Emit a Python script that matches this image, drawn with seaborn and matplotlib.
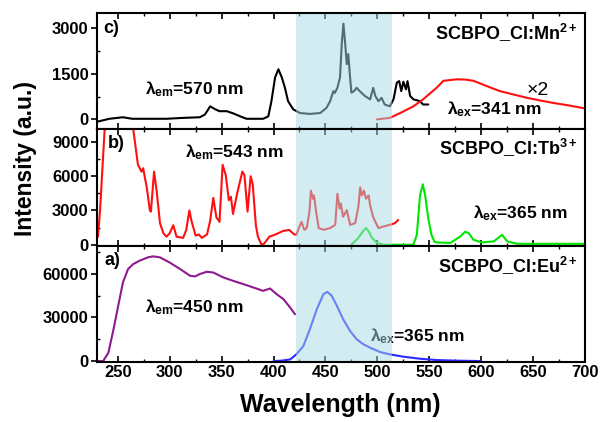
import matplotlib
matplotlib.use('Agg')
import matplotlib.pyplot as plt
from matplotlib.ticker import MultipleLocator
import seaborn as sns

# Mn2+ : excitation (black) and emission (red, x2)
mn_exc_wl = [231, 242, 255, 264, 281, 297, 313, 329, 334, 339, 344, 348, 355, 361, 368, 374, 390, 395, 398, 401.5,
             404.7, 408, 411, 414, 419, 425.5, 435, 445, 451, 454.5, 457.6, 459, 461.5, 464, 465.7, 467.3, 469, 470.5,
             472, 473.7, 475, 477.5, 480, 483, 488, 493, 496, 498, 501, 504, 507, 512, 515.5, 518.7, 521, 523, 525,
             527.5, 529, 531.5, 534.7, 541, 544, 549]
mn_exc_int = [-70, 20, 70, 20, 20, 20, 50, 70, 160, 430, 330, 270, 270, 200, 100, 20, 20, 100, 600, 1380,
              1650, 1380, 1040, 600, 330, 210, 180, 210, 380, 600, 930, 870, 1040, 1380, 2490, 3150, 2490, 1820,
              2150, 1380, 880, 930, 1040, 930, 770, 660, 1040, 770, 600, 710, 490, 430, 660, 1210, 1260, 930, 1240,
              990, 1260, 770, 660, 600, 490, 490]
mn_em_wl = [499.5, 512, 522, 534.7, 544, 557, 563.6, 576.5, 585, 592.5, 605, 618, 631, 644, 657, 669.6, 682.5, 700]
mn_em_int = [0, 50, 210, 430, 660, 1040, 1270, 1320, 1310, 1270, 1100, 930, 820, 710, 620, 540, 470, 360]

# Tb3+ : excitation (red) and emission (green)
tb_exc_wl = [231, 233, 235.5, 238, 245, 255, 262, 265, 269.5, 273, 274.5, 278, 281, 282, 285, 287.5, 290.7, 294,
             297, 300, 303.5, 306.7, 313, 316, 319, 321, 325, 328, 331, 336, 339, 342, 345, 348, 351, 354, 357, 359,
             361, 365, 370, 372, 375, 378, 380, 383, 385, 388.5, 391, 396, 402, 409, 415, 420, 422, 425.6, 427,
             429.6, 432, 434.6, 436, 438, 439, 441, 443.5, 448, 454.6, 459.4, 461.5, 463.7, 464.8, 467, 470.5,
             473.8, 478.6, 481.7, 483.4, 485, 487, 489, 491.6, 493, 495.8, 498, 501, 506, 512, 517, 520]
tb_exc_int = [700, 3000, 7000, 11000, 14000, 14000, 11500, 10100, 7000, 6400, 6700, 5000, 3000, 2900, 6400, 4700,
              1900, 1000, 700, 1000, 1700, 700, 600, 1300, 3000, 2100, 800, 900, 600, 900, 2100, 4100, 2400, 2000,
              7000, 6100, 3900, 4200, 2700, 4500, 6400, 6100, 2900, 6000, 5300, 1700, 700, 0, 100, 700, 900, 1200,
              1300, 900, 880, 1740, 2000, 1310, 1460, 2890, 4740, 4030, 4310, 2890, 1460, 1310, 1460, 1740, 4460,
              3170, 3600, 2450, 3030, 1740, 1890, 3320, 5030, 4310, 4740, 4030, 4310, 3460, 2460, 2020, 1460, 1600,
              1740, 1890, 2170]
tb_em_wl = [475, 481.7, 486, 489, 491.6, 494.8, 499.4, 506, 534.7, 538, 541, 543.7, 546, 549, 552, 555, 557, 570,
            579.7, 584.5, 588, 592.5, 600.6, 612, 620, 625, 634.6, 700]
tb_em_int = [0, 600, 1170, 1460, 1170, 600, 170, 0, 0, 880, 4310, 5300, 4310, 2310, 880, 250, 200, 150,
             710, 1140, 1000, 430, 200, 290, 860, 290, 80, 80]

# Eu2+ : excitation (purple) and emission (blue)
eu_exc_wl = [231, 236, 241, 246, 250.5, 255, 260, 265, 271, 279, 284, 290.7, 300, 310, 319.6, 324.4, 329, 335.7,
             342, 351.7, 361, 371, 380.6, 390, 396.7, 403, 409.5, 416, 420.7]
eu_exc_int = [0, 0, 5700, 21900, 38000, 54000, 63300, 66700, 69000, 71300, 72000, 71300, 67800, 63300, 58700,
              58200, 59800, 61400, 60900, 57500, 55200, 52900, 50600, 48300, 49900, 46000, 42600, 36800, 32200]
eu_em_wl = [400, 408, 416, 422, 428.7, 435, 441.7, 448, 451.8, 456, 461, 467, 473.7, 480, 486.6, 493, 502.6, 512,
            525, 541, 557, 575, 599]
eu_em_int = [0, 300, 1100, 4600, 10300, 21900, 35700, 46000, 47600, 44900, 38000, 28800, 20700, 15000, 11500,
             9200, 6200, 4600, 3000, 1600, 700, 300, 0]

band = (422, 514)

sns.set_style('ticks')
plt.rcParams['font.family'] = ['Liberation Sans', 'DejaVu Sans']
plt.rcParams['font.weight'] = 'bold'
plt.rcParams['mathtext.fontset'] = 'custom'
plt.rcParams['mathtext.rm'] = 'Liberation Sans:bold'
plt.rcParams['mathtext.bf'] = 'Liberation Sans:bold'
plt.rcParams['mathtext.default'] = 'bf'
for key in ['text.color', 'axes.labelcolor', 'xtick.color', 'ytick.color', 'axes.edgecolor']:
    plt.rcParams[key] = 'black'

fig, axes = plt.subplots(3, 1, sharex=True, figsize=(6.02, 4.22), dpi=100)
fig.subplots_adjust(left=0.161, right=0.972, top=0.969, bottom=0.142, hspace=0)
ax_c, ax_b, ax_a = axes

lw = 1.5
sns.lineplot(x=mn_exc_wl, y=mn_exc_int, ax=ax_c, color='black', linewidth=lw)
sns.lineplot(x=mn_em_wl, y=mn_em_int, ax=ax_c, color='#ff1010', linewidth=lw)
sns.lineplot(x=tb_exc_wl, y=tb_exc_int, ax=ax_b, color='#ff1010', linewidth=lw)
sns.lineplot(x=tb_em_wl, y=tb_em_int, ax=ax_b, color='#00e600', linewidth=lw)
sns.lineplot(x=eu_exc_wl, y=eu_exc_int, ax=ax_a, color='#8e1a8e', linewidth=lw)
sns.lineplot(x=eu_em_wl, y=eu_em_int, ax=ax_a, color='#2a2aff', linewidth=lw)

ax_c.set_ylim(-330, 3500)
ax_b.set_ylim(-90, 10100)
ax_a.set_ylim(-700, 79300)
ax_c.yaxis.set_major_locator(MultipleLocator(1500))
ax_c.yaxis.set_minor_locator(MultipleLocator(750))
ax_b.yaxis.set_major_locator(MultipleLocator(3000))
ax_b.yaxis.set_minor_locator(MultipleLocator(1500))
ax_a.yaxis.set_major_locator(MultipleLocator(30000))
ax_a.yaxis.set_minor_locator(MultipleLocator(15000))

for ax in axes:
    ax.axvspan(band[0], band[1], color='#a6dbe6', alpha=0.5, lw=0, zorder=2.2)
    ax.set_xlim(230, 700)
    ax.xaxis.set_major_locator(MultipleLocator(50))
    ax.xaxis.set_minor_locator(MultipleLocator(25))
    ax.tick_params(axis='x', which='major', direction='in', top=True, bottom=True, length=4, width=1.2)
    ax.tick_params(axis='x', which='minor', direction='in', top=True, bottom=True, length=2.5, width=1)
    ax.tick_params(axis='y', which='major', direction='out', length=4, width=1.2)
    ax.tick_params(axis='y', which='minor', direction='in', length=2.5, width=1)
    ax.tick_params(labelsize=12, pad=2)
    for s in ax.spines.values():
        s.set_linewidth(1.5)
        s.set_color('black')
    ax.set_xlabel('')
    ax.set_ylabel('')

fs = 12.5
# panel c
ax_c.text(0.012, 0.87, 'c)', transform=ax_c.transAxes, fontsize=13, va='center')
ax_c.text(0.098, 0.30, 'λ$_{em}$=570 nm', transform=ax_c.transAxes, fontsize=fs)
ax_c.text(0.984, 0.78, 'SCBPO_Cl:Mn$^{2+}$', transform=ax_c.transAxes, fontsize=13, ha='right')
ax_c.text(0.881, 0.30, '×2', transform=ax_c.transAxes, fontsize=14, fontweight='normal')
ax_c.text(0.717, 0.13, 'λ$_{ex}$=341 nm', transform=ax_c.transAxes, fontsize=fs)
# panel b
ax_b.text(0.022, 0.88, 'b)', transform=ax_b.transAxes, fontsize=13, va='center')
ax_b.text(0.18, 0.763, 'λ$_{em}$=543 nm', transform=ax_b.transAxes, fontsize=fs)
ax_b.text(0.984, 0.79, 'SCBPO_Cl:Tb$^{3+}$', transform=ax_b.transAxes, fontsize=13, ha='right')
ax_b.text(0.77, 0.237, 'λ$_{ex}$=365 nm', transform=ax_b.transAxes, fontsize=fs)
# panel a
ax_a.text(0.016, 0.87, 'a)', transform=ax_a.transAxes, fontsize=13, va='center')
ax_a.text(0.098, 0.43, 'λ$_{em}$=450 nm', transform=ax_a.transAxes, fontsize=fs)
ax_a.text(0.984, 0.77, 'SCBPO_Cl:Eu$^{2+}$', transform=ax_a.transAxes, fontsize=13, ha='right')
ax_a.text(0.56, 0.18, 'λ$_{ex}$=365 nm', transform=ax_a.transAxes, fontsize=fs, zorder=2.1)

fig.text(0.043, 0.625, 'Intensity (a.u.)', rotation=90, ha='center', va='center', fontsize=16.5)
fig.text(0.566, 0.04, 'Wavelength (nm)', ha='center', va='center', fontsize=18)

fig.savefig('out.png', dpi=100)
